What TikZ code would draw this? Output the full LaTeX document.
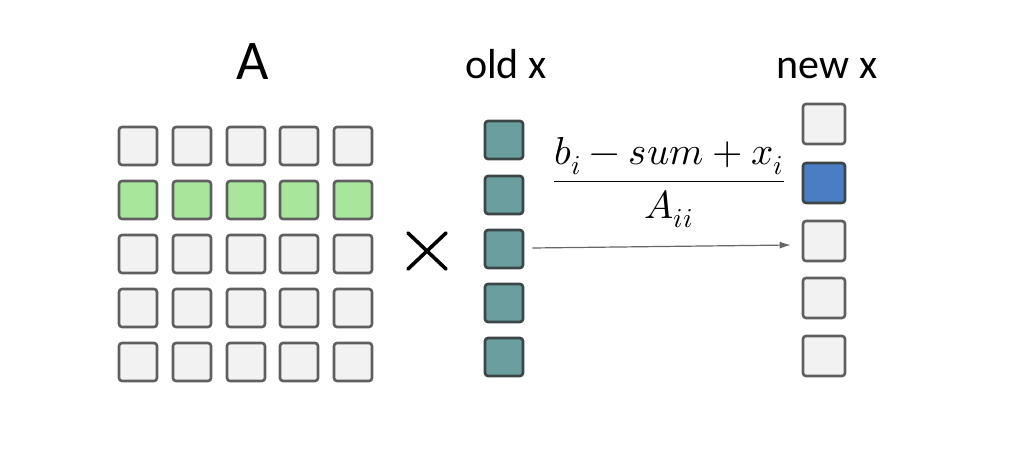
\documentclass[tikz,border=0pt]{standalone}
\usepackage{fontspec}
\setmainfont{Carlito}
\usepackage{unicode-math}
\setmathfont{Latin Modern Math}
\usetikzlibrary{arrows.meta}
\definecolor{cellgray}{RGB}{242,242,242}
\definecolor{cellline}{RGB}{95,95,95}
\definecolor{cellgreen}{RGB}{168,230,156}
\definecolor{cellteal}{RGB}{106,158,159}
\definecolor{cellblue}{RGB}{74,126,196}
\definecolor{cellline2}{RGB}{60,70,70}
\tikzset{
  cell/.style={draw=cellline, line width=2.6pt, rounded corners=3pt, minimum width=38pt, minimum height=38pt, inner sep=0pt, fill=cellgray},
  gcell/.style={cell, fill=cellgreen},
  tcell/.style={cell, fill=cellteal, draw=cellline2},
  ncell/.style={cell, minimum width=42pt, minimum height=40pt},
  bcell/.style={ncell, fill=cellblue, draw=cellline2},
  lab/.style={font=\fontsize{42}{46}\selectfont, inner sep=0pt},
  crossline/.style={line width=3.6pt, line cap=round},
}
\begin{document}
\begin{tikzpicture}[x=1pt,y=-1pt]
\useasboundingbox (0,0) rectangle (1020,462);
% matrix A
\foreach \c [count=\ci] in {138,192,246,299,353}{
  \foreach \r [count=\ri] in {146,200,254,308,362}{
    \ifnum\ri=2
      \node[gcell] (a\ri\ci) at (\c,\r) {};
    \else
      \node[cell] (a\ri\ci) at (\c,\r) {};
    \fi
  }
}
\node[lab, font=\fontsize{56}{60}\selectfont] (labA) at (253,62) {A};
% times
\coordinate (t1) at (408,233);
\coordinate (t2) at (446,269);
\coordinate (t3) at (408,269);
\coordinate (t4) at (446,233);
\draw[crossline] (t1) -- (t2);
\draw[crossline] (t3) -- (t4);
% old x
\foreach \r [count=\ri] in {140,195,249,303,357}{
  \node[tcell] (o\ri) at (504,\r) {};
}
\node[lab] (labold) at (506,64) {old x};
% new x
\foreach \r [count=\ri] in {124,183,241,298,356}{
  \ifnum\ri=2
    \node[bcell] (n\ri) at (824,\r) {};
  \else
    \node[ncell] (n\ri) at (824,\r) {};
  \fi
}
\node[lab] (labnew) at (827,68) {new x};
% formula
\node[inner sep=0pt, font=\fontsize{39}{44}\selectfont] (frac) at (669,183) {$\dfrac{b_i - sum + x_i}{A_{ii}}$};
% arrow
\coordinate (as) at ([xshift=8pt,yshift=1pt]o3.east);
\coordinate (ae) at ([xshift=-11pt,yshift=-4pt]n3.west);
\draw[-{Latex[length=11pt,width=7pt]}, draw=gray!80!black, line width=1.2pt] (as) -- (ae);
\end{tikzpicture}
\end{document}
